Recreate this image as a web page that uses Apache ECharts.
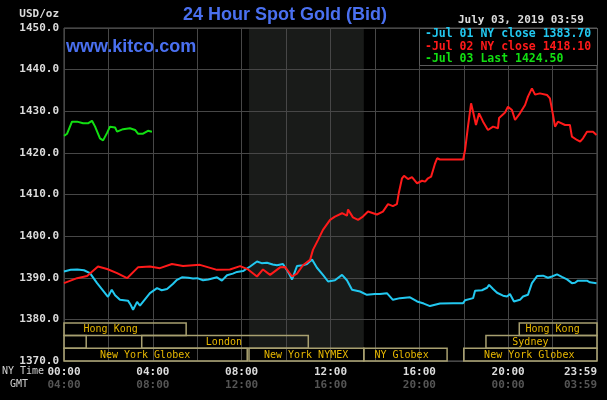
<!DOCTYPE html>
<html><head><meta charset="utf-8">
<script src="https://cdn.jsdelivr.net/npm/echarts@6/dist/echarts.min.js"></script>
<style>html,body{margin:0;padding:0;background:#000;}#c{width:607px;height:400px;}</style>
</head><body><div id="c"></div><script>
// ---- data (hours since 00:00 NY time, price USD/oz) ----
const jul01 = [[0,1391.5],[0.3,1391.9],[0.6,1392.0],[0.9,1391.8],[1.17,1391.1],[1.49,1388.7],[1.98,1385.4],[2.15,1387.1],[2.3,1385.8],[2.52,1384.7],[2.88,1384.5],[3.0,1383.5],[3.11,1382.3],[3.29,1384.2],[3.42,1383.3],[3.6,1384.5],[3.87,1386.3],[4.19,1387.5],[4.4,1387.0],[4.64,1387.3],[4.9,1388.5],[5.09,1389.5],[5.31,1390.1],[5.6,1390.0],[5.81,1389.8],[6.0,1389.9],[6.26,1389.4],[6.5,1389.6],[6.89,1390.1],[7.11,1389.3],[7.34,1390.6],[7.6,1391.0],[7.79,1391.4],[8.06,1391.6],[8.38,1392.7],[8.69,1393.9],[8.9,1393.5],[9.14,1393.6],[9.4,1393.2],[9.59,1393.0],[9.86,1393.3],[10.09,1391.4],[10.27,1389.6],[10.49,1392.8],[10.76,1393.0],[10.94,1393.3],[11.17,1394.4],[11.39,1392.4],[11.66,1390.7],[11.89,1389.1],[12.2,1389.4],[12.52,1390.7],[12.74,1389.4],[12.97,1387.1],[13.33,1386.7],[13.64,1385.9],[14.0,1386.1],[14.23,1386.1],[14.54,1386.3],[14.81,1384.7],[15.13,1385.1],[15.58,1385.3],[15.9,1384.3],[16.2,1383.8],[16.48,1383.2],[16.93,1383.8],[17.52,1383.9],[17.97,1383.9],[18.06,1384.6],[18.42,1385.1],[18.51,1386.9],[18.82,1387.0],[19.05,1387.6],[19.14,1388.3],[19.32,1387.3],[19.5,1386.4],[19.77,1385.7],[19.95,1385.5],[20.08,1386.1],[20.17,1385.2],[20.26,1384.3],[20.53,1384.7],[20.67,1385.5],[20.89,1385.9],[20.98,1385.5],[21.07,1388.7],[21.3,1390.4],[21.57,1390.5],[21.79,1390.0],[21.97,1390.3],[22.2,1390.8],[22.42,1390.2],[22.65,1389.6],[22.87,1388.7],[23.01,1388.8],[23.14,1389.3],[23.55,1389.3],[23.68,1388.9],[23.98,1388.7]];
const jul02 = [[0,1388.7],[0.59,1389.9],[1.04,1390.4],[1.53,1392.7],[1.94,1392.1],[2.39,1391.1],[2.84,1389.9],[3.33,1392.5],[3.87,1392.7],[4.32,1392.3],[4.86,1393.3],[5.36,1392.8],[6.12,1393.1],[6.89,1391.9],[7.47,1392.0],[7.93,1392.8],[8.29,1392.0],[8.69,1390.3],[8.96,1392.0],[9.28,1390.7],[9.73,1392.5],[9.95,1392.6],[10.27,1390.3],[10.49,1391.0],[10.76,1393.0],[11.08,1394.3],[11.21,1396.7],[11.44,1399.1],[11.66,1401.5],[11.98,1403.9],[12.2,1404.7],[12.52,1405.5],[12.74,1404.9],[12.79,1406.4],[13.01,1404.5],[13.24,1403.9],[13.46,1404.7],[13.69,1405.9],[14.09,1405.2],[14.36,1405.9],[14.59,1407.7],[14.81,1407.2],[14.99,1407.7],[15.08,1410.5],[15.22,1413.9],[15.31,1414.5],[15.49,1413.7],[15.67,1414.2],[15.9,1412.7],[16.12,1413.3],[16.26,1413.1],[16.39,1413.9],[16.53,1414.3],[16.62,1415.9],[16.71,1417.5],[16.8,1418.7],[16.93,1418.4],[17.97,1418.4],[18.06,1420.7],[18.19,1426.3],[18.33,1431.9],[18.42,1429.9],[18.55,1426.7],[18.69,1429.5],[18.87,1427.5],[19.09,1425.5],[19.32,1426.3],[19.54,1425.9],[19.59,1428.4],[19.86,1429.7],[19.99,1431.1],[20.17,1430.3],[20.31,1427.9],[20.53,1429.5],[20.76,1431.5],[20.89,1433.5],[21.07,1435.5],[21.21,1434.0],[21.43,1434.3],[21.75,1433.9],[21.88,1433.1],[22.02,1429.1],[22.11,1426.3],[22.24,1427.5],[22.33,1427.5],[22.56,1426.7],[22.78,1426.7],[22.87,1423.9],[23.1,1423.1],[23.24,1422.7],[23.37,1423.5],[23.55,1425.1],[23.82,1425.1],[23.98,1424.3]];
const jul03 = [[0,1424.1],[0.14,1424.6],[0.36,1427.5],[0.59,1427.5],[0.86,1427.1],[1.08,1427.1],[1.26,1427.7],[1.4,1426.3],[1.62,1423.5],[1.76,1423.0],[1.94,1424.8],[2.07,1426.3],[2.3,1426.1],[2.39,1425.1],[2.66,1425.7],[2.97,1425.9],[3.2,1425.5],[3.33,1424.6],[3.56,1424.6],[3.78,1425.3],[3.96,1425.1]];
const seriesNames = ['Jul 01 NY close 1383.70','Jul 02 NY close 1418.10','Jul 03 Last 1424.50'];
const nyTicks = ['00:00','04:00','08:00','12:00','16:00','20:00','23:59'];
const gmtTicks = ['04:00','08:00','12:00','16:00','20:00','00:00','03:59'];
// market sessions: [start hour, end hour, row (0 top), label centre hour]
const marketNames = ['Hong Kong','Hong Kong','','London','Sydney','New York Globex','New York NYMEX','NY Globex','New York Globex'];
const marketSpans = [[0,5.5,0,2.1],[20.5,24,0,22.0],[0,1.0,1,-1],[3.5,11.0,1,7.2],[19.0,24,1,21.0],[0,8.25,2,3.65],[8.33,13.5,2,10.9],[13.5,17.25,2,15.2],[18.0,24,2,20.95]];
const comexSpan = [8.33, 13.5];

const colors = ['#22c8f0','#ff1a1a','#12e012'];
const mono = 'DejaVu Sans Mono';
const rowTops = [1379.15, 1376.1, 1373.05];
const rowH = 3.05;

const chart = echarts.init(document.getElementById('c'));
const lineSeries = [jul01, jul02, jul03].map((d, i) => ({
  type: 'line', name: seriesNames[i], data: d, showSymbol: false, symbol: 'none',
  lineStyle: { color: colors[i], width: 2 }, itemStyle: { color: colors[i] }, z: 3 + i, animation: false
}));

const legendTexts = seriesNames.map((n, i) => ({
  type: 'text', left: 425, top: 28.5 + i * 12.2, z: 20,
  style: { text: '-' + n, fill: colors[i], font: 'bold 11.5px "' + mono + '"' }
}));

chart.setOption({
  backgroundColor: '#000',
  animation: false,
  grid: { left: 64, right: 10, top: 28, bottom: 39, show: true, borderColor: '#5a5a5a', borderWidth: 1 },
  xAxis: {
    type: 'value', min: 0, max: 24, interval: 2, z: 1,
    axisLine: { show: false }, axisTick: { show: false },
    splitLine: { show: true, lineStyle: { color: '#474747', width: 1 } },
    axisLabel: {
      margin: 5, alignMaxLabel: 'right',
      formatter: v => v % 4 === 0 ? '{a|' + nyTicks[v / 4] + '}\n{b|' + gmtTicks[v / 4] + '}' : '',
      rich: {
        a: { color: '#dcdcdc', fontFamily: mono, fontSize: 11, fontWeight: 'bold', lineHeight: 13 },
        b: { color: '#555', fontFamily: mono, fontSize: 11, fontWeight: 'bold', lineHeight: 13 }
      }
    }
  },
  yAxis: {
    type: 'value', min: 1370, max: 1450, interval: 10, z: 1,
    axisLine: { show: false }, axisTick: { show: false },
    splitLine: { show: true, lineStyle: { color: '#474747', width: 1 } },
    axisLabel: { margin: 5, color: '#dcdcdc', fontFamily: mono, fontSize: 11, fontWeight: 'bold', formatter: v => v.toFixed(1) }
  },
  graphic: [
    { type: 'text', left: 183, top: 6, z: 20, style: { text: '24 Hour Spot Gold (Bid)', fill: '#4a70f0', font: 'bold 18px "Liberation Sans", Arial, sans-serif' } },
    { type: 'text', left: 66, top: 38, z: 20, style: { text: 'www.kitco.com', fill: '#4a70f0', font: 'bold 18px "Liberation Sans", Arial, sans-serif' } },
    { type: 'text', right: 548, top: 9, z: 20, style: { text: 'USD/oz', fill: '#dcdcdc', font: 'bold 11px "' + mono + '"', align: 'right' } },
    { type: 'text', left: 458, top: 15, z: 20, style: { text: 'July 03, 2019 03:59', fill: '#dcdcdc', font: 'bold 11px "' + mono + '"' } },
    { type: 'rect', left: 419, top: 28, z: 15, shape: { width: 178, height: 37 }, style: { fill: '#000', stroke: '#5a5a5a', lineWidth: 1 } },
    ...legendTexts,
    { type: 'text', left: 2, top: 366, z: 20, style: { text: 'NY Time', fill: '#d0d0d0', font: '10px "' + mono + '"' } },
    { type: 'text', left: 10, top: 379, z: 20, style: { text: 'GMT', fill: '#d0d0d0', font: '10px "' + mono + '"' } }
  ],
  series: [
    {
      type: 'line', data: [], silent: true, z: 0,
      markArea: { silent: true, z: 0, itemStyle: { color: '#191b19' },
        data: [[{ xAxis: comexSpan[0], yAxis: rowTops[2] }, { xAxis: comexSpan[1], yAxis: 1450 }]] }
    },
    {
      type: 'custom', z: 2, silent: true,
      data: marketSpans,
      renderItem: (params, api) => {
        const s = api.value(0), e = api.value(1), r = api.value(2), lc = api.value(3);
        const p1 = api.coord([s, rowTops[r]]);
        const p2 = api.coord([e, rowTops[r] - rowH]);
        const children = [{
          type: 'rect', shape: { x: p1[0], y: p1[1], width: p2[0] - p1[0], height: p2[1] - p1[1] },
          style: { fill: 'none', stroke: '#a8a070', lineWidth: 1.5 }
        }];
        const name = marketNames[params.dataIndex];
        if (name) {
          const c = api.coord([lc, rowTops[r] - rowH / 2]);
          children.push({ type: 'text', style: { text: name, x: c[0], y: c[1] + 0.5, align: 'center', verticalAlign: 'middle', fill: '#e8b800', font: '10px "' + mono + '"' } });
        }
        return { type: 'group', children };
      }
    },
    ...lineSeries
  ]
});
</script></body></html>
